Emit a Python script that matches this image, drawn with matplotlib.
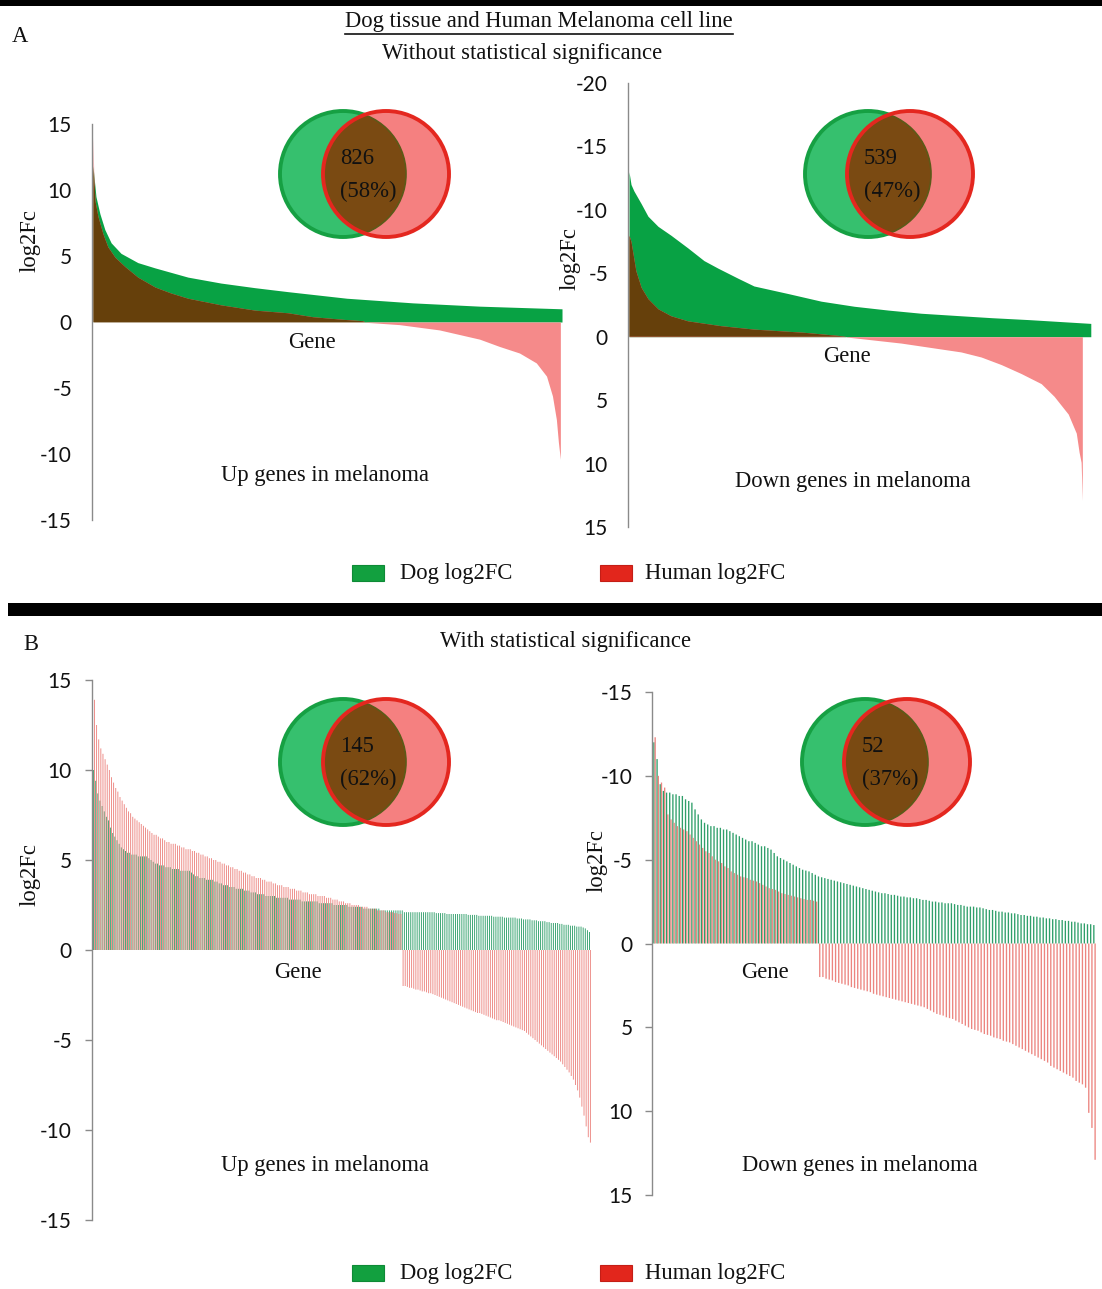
import numpy as np
import matplotlib
matplotlib.use("Agg")
import matplotlib.pyplot as plt
from matplotlib.patches import Circle, Rectangle

# ---------------- data ----------------
# Panel A (all genes, no significance filter): ranked log2FC curves, sampled (rank, value)
up_all_dog_rank = [0, 9, 21, 36, 55, 85, 136, 188, 288, 388, 491, 591, 770, 970, 1173, 1423]
up_all_dog_fc = [11.8, 9.5, 8.2, 7.0, 6.0, 5.2, 4.5, 4.1, 3.4, 2.95, 2.6, 2.3, 1.8, 1.45, 1.2, 1.0]
up_all_human_rank = [0, 2, 6, 15, 30, 45, 67, 97, 136, 188, 236, 288, 388, 491, 591, 667, 760,
                     818, 825, 826, 930, 1051, 1112, 1173, 1233, 1294, 1345, 1376, 1394, 1406,
                     1412, 1418]
up_all_human_fc = [14.0, 11.5, 9.2, 8.0, 6.7, 5.7, 4.9, 4.2, 3.4, 2.65, 2.2, 1.8, 1.3, 0.9, 0.7,
                   0.4, 0.2, 0.1, 0.02, -0.02, -0.2, -0.6, -0.95, -1.3, -1.85, -2.35, -3.1, -4.1,
                   -5.6, -7.4, -9.1, -10.4]

down_all_dog_rank = [0, 5, 12, 30, 47, 72, 104, 146, 186, 221, 271, 310, 395, 477, 559, 643, 725,
                     824, 900, 991, 1146]
down_all_dog_fc = [-13.0, -12.0, -11.5, -10.5, -9.5, -8.7, -8.0, -7.0, -6.0, -5.4, -4.6, -4.0,
                   -3.4, -2.8, -2.4, -2.1, -1.85, -1.65, -1.5, -1.35, -1.05]
down_all_human_rank = [0, 5, 17, 30, 47, 72, 104, 146, 228, 310, 434, 520, 538, 539, 675, 824,
                       874, 924, 973, 1023, 1055, 1090, 1110, 1117, 1122, 1125]
down_all_human_fc = [-8.0, -7.5, -5.2, -3.9, -3.0, -2.2, -1.65, -1.25, -0.87, -0.6, -0.35, -0.1,
                     -0.02, 0.02, 0.5, 1.2, 1.6, 2.2, 2.9, 3.7, 4.7, 6.1, 7.6, 9.1, 9.9, 12.9]

venn_counts = [826, 539, 145, 52]
venn_pcts = ["58%", "47%", "62%", "37%"]

# Panel B (significant genes): one value per gene
up_sig_dog = [
    10.0, 9.4, 8.7, 8.3, 8.0, 7.7, 7.4, 7.2, 6.8, 6.5,
    6.3, 6.1, 5.9, 5.7, 5.6, 5.5, 5.4, 5.4, 5.3, 5.3,
    5.3, 5.2, 5.2, 5.2, 5.2, 5.2, 5.1, 5.0, 4.9, 4.8,
    4.8, 4.7, 4.7, 4.7, 4.6, 4.6, 4.6, 4.5, 4.5, 4.5,
    4.5, 4.4, 4.4, 4.4, 4.4, 4.4, 4.3, 4.2, 4.1, 4.1,
    4.0, 4.0, 4.0, 3.9, 3.9, 3.9, 3.9, 3.8, 3.8, 3.7,
    3.7, 3.6, 3.6, 3.6, 3.5, 3.5, 3.5, 3.4, 3.4, 3.4,
    3.4, 3.3, 3.3, 3.3, 3.2, 3.2, 3.2, 3.1, 3.1, 3.1,
    3.1, 3.0, 3.0, 3.0, 3.0, 3.0, 2.9, 2.9, 2.9, 2.9,
    2.9, 2.9, 2.8, 2.8, 2.8, 2.8, 2.8, 2.8, 2.7, 2.7,
    2.7, 2.7, 2.7, 2.7, 2.7, 2.7, 2.6, 2.6, 2.6, 2.6,
    2.6, 2.6, 2.6, 2.5, 2.5, 2.5, 2.5, 2.5, 2.5, 2.5,
    2.4, 2.4, 2.4, 2.4, 2.4, 2.4, 2.4, 2.3, 2.3, 2.3,
    2.3, 2.3, 2.3, 2.3, 2.3, 2.2, 2.2, 2.2, 2.2, 2.2,
    2.2, 2.2, 2.2, 2.2, 2.2, 2.2, 2.1, 2.1, 2.1, 2.1,
    2.1, 2.1, 2.1, 2.1, 2.1, 2.1, 2.1, 2.1, 2.1, 2.1,
    2.1, 2.05, 2.05, 2.05, 2.05, 2.05, 2.0, 2.0, 2.0, 2.0,
    2.0, 2.0, 2.0, 2.0, 2.0, 2.0, 1.95, 1.95, 1.95, 1.95,
    1.95, 1.9, 1.9, 1.9, 1.9, 1.9, 1.9, 1.9, 1.85, 1.85,
    1.85, 1.85, 1.85, 1.8, 1.8, 1.8, 1.8, 1.8, 1.8, 1.75,
    1.75, 1.75, 1.7, 1.7, 1.7, 1.7, 1.65, 1.65, 1.65, 1.6,
    1.6, 1.6, 1.6, 1.55, 1.55, 1.5, 1.5, 1.5, 1.5, 1.45,
    1.45, 1.4, 1.4, 1.4, 1.35, 1.35, 1.35, 1.3, 1.3, 1.3,
    1.25, 1.2, 1.1, 1.0,
]
up_sig_human = [
    13.9, 12.5, 11.7, 11.2, 10.9, 10.6, 10.3, 10.0, 9.6, 9.3,
    9.0, 8.8, 8.5, 8.3, 8.1, 7.9, 7.7, 7.6, 7.4, 7.3,
    7.2, 7.1, 7.0, 6.9, 6.8, 6.7, 6.6, 6.5, 6.4, 6.4,
    6.3, 6.2, 6.2, 6.1, 6.0, 6.0, 5.9, 5.9, 5.9, 5.8,
    5.8, 5.7, 5.7, 5.6, 5.6, 5.6, 5.5, 5.5, 5.4, 5.4,
    5.3, 5.3, 5.2, 5.2, 5.1, 5.1, 5.0, 5.0, 4.9, 4.9,
    4.8, 4.8, 4.7, 4.7, 4.6, 4.6, 4.5, 4.5, 4.4, 4.4,
    4.3, 4.3, 4.2, 4.2, 4.1, 4.1, 4.0, 4.0, 4.0, 3.9,
    3.9, 3.8, 3.8, 3.8, 3.7, 3.7, 3.6, 3.6, 3.6, 3.5,
    3.5, 3.5, 3.4, 3.4, 3.4, 3.3, 3.3, 3.3, 3.2, 3.2,
    3.2, 3.1, 3.1, 3.1, 3.1, 3.0, 3.0, 3.0, 3.0, 2.9,
    2.9, 2.9, 2.8, 2.8, 2.8, 2.7, 2.7, 2.7, 2.6, 2.6,
    2.6, 2.5, 2.5, 2.5, 2.5, 2.4, 2.4, 2.4, 2.4, 2.3,
    2.3, 2.3, 2.3, 2.2, 2.2, 2.2, 2.2, 2.1, 2.1, 2.1,
    2.1, 2.05, 2.05, 2.0, 2.0, -2.0, -2.0, -2.05, -2.1, -2.1,
    -2.15, -2.2, -2.2, -2.25, -2.3, -2.3, -2.35, -2.4, -2.4, -2.45,
    -2.5, -2.55, -2.6, -2.65, -2.7, -2.75, -2.8, -2.85, -2.9, -2.95,
    -3.0, -3.05, -3.1, -3.15, -3.2, -3.25, -3.3, -3.35, -3.4, -3.45,
    -3.5, -3.5, -3.55, -3.6, -3.65, -3.7, -3.75, -3.8, -3.85, -3.9,
    -3.9, -3.95, -4.0, -4.05, -4.1, -4.15, -4.2, -4.25, -4.3, -4.35,
    -4.4, -4.45, -4.5, -4.6, -4.7, -4.8, -4.9, -5.0, -5.1, -5.2,
    -5.3, -5.4, -5.5, -5.6, -5.7, -5.8, -5.9, -6.0, -6.1, -6.2,
    -6.35, -6.5, -6.65, -6.8, -7.0, -7.2, -7.5, -7.8, -8.2, -8.7,
    -9.2, -9.8, -10.4, -10.7,
]
down_sig_dog = [
    -12.0, -11.0, -9.5, -9.1, -9.0, -9.0, -8.9, -8.9, -8.8, -8.8,
    -8.6, -8.5, -8.4, -8.0, -7.7, -7.4, -7.2, -7.1, -7.0, -7.0,
    -6.9, -6.9, -6.8, -6.8, -6.7, -6.6, -6.5, -6.4, -6.3, -6.2,
    -6.1, -6.1, -6.0, -5.9, -5.8, -5.8, -5.7, -5.6, -5.4, -5.2,
    -5.1, -5.0, -4.9, -4.8, -4.7, -4.6, -4.5, -4.4, -4.35, -4.3,
    -4.2, -4.1, -4.0, -3.95, -3.9, -3.85, -3.8, -3.75, -3.7, -3.65,
    -3.6, -3.55, -3.5, -3.45, -3.4, -3.35, -3.3, -3.25, -3.2, -3.15,
    -3.1, -3.05, -3.0, -3.0, -2.95, -2.9, -2.9, -2.85, -2.8, -2.8,
    -2.75, -2.75, -2.7, -2.7, -2.65, -2.6, -2.6, -2.55, -2.5, -2.5,
    -2.45, -2.45, -2.4, -2.4, -2.4, -2.35, -2.3, -2.3, -2.25, -2.2,
    -2.2, -2.2, -2.15, -2.15, -2.1, -2.05, -2.0, -2.0, -1.95, -1.9,
    -1.9, -1.85, -1.85, -1.8, -1.8, -1.75, -1.7, -1.7, -1.65, -1.65,
    -1.6, -1.6, -1.55, -1.55, -1.5, -1.5, -1.45, -1.45, -1.4, -1.4,
    -1.35, -1.35, -1.3, -1.3, -1.25, -1.2, -1.2, -1.15, -1.15, -1.1,
]
down_sig_human = [
    -12.3, -10.0, -9.6, -9.3, -7.7, -7.4, -7.2, -7.0, -6.9, -6.8,
    -6.7, -6.5, -6.3, -6.1, -5.9, -5.7, -5.5, -5.4, -5.2, -5.0,
    -4.9, -4.8, -4.6, -4.5, -4.3, -4.2, -4.1, -4.0, -3.95, -3.9,
    -3.8, -3.75, -3.7, -3.6, -3.5, -3.4, -3.3, -3.25, -3.2, -3.1,
    -3.0, -2.95, -2.9, -2.85, -2.8, -2.75, -2.7, -2.65, -2.6, -2.6,
    -2.55, -2.5, 2.0, 2.0, 2.1, 2.15, 2.2, 2.3, 2.35, 2.4,
    2.45, 2.5, 2.6, 2.65, 2.7, 2.75, 2.8, 2.85, 2.9, 3.0,
    3.05, 3.1, 3.15, 3.2, 3.25, 3.3, 3.35, 3.4, 3.45, 3.5,
    3.55, 3.6, 3.65, 3.7, 3.75, 3.8, 3.9, 4.0, 4.1, 4.2,
    4.25, 4.3, 4.4, 4.45, 4.5, 4.6, 4.7, 4.8, 4.9, 5.0,
    5.1, 5.15, 5.2, 5.3, 5.4, 5.45, 5.5, 5.6, 5.65, 5.7,
    5.8, 5.85, 5.9, 6.0, 6.1, 6.2, 6.3, 6.4, 6.5, 6.6,
    6.7, 6.8, 6.9, 7.0, 7.1, 7.3, 7.4, 7.5, 7.6, 7.7,
    7.8, 7.9, 8.0, 8.2, 8.3, 8.4, 8.6, 10.1, 11.0, 12.9,
]

yticks_up = [-15, -10, -5, 0, 5, 10, 15]
yticks_down_all = [-20, -15, -10, -5, 0, 5, 10, 15]
yticks_down_sig = [-15, -10, -5, 0, 5, 10, 15]

# ---------------- style ----------------
W, H, DPI = 1102, 1289, 100
SERIF = "Liberation Serif"
SANS = "Lato"
TXT = 16.3
GREEN = "#08a244"
BROWN = "#66400b"
PINK = "#f58a8a"
BAR_DOG = "#2f9f6a"
BAR_HUM = "#ec8580"
SPINE = "#8a8a8a"

plt.rcParams["axes.unicode_minus"] = False
plt.rcParams["font.family"] = SANS

fig = plt.figure(figsize=(W / DPI, H / DPI), dpi=DPI)


def axes_px(left, top, right, bottom):
    return fig.add_axes([left / W, 1 - bottom / H, (right - left) / W, (bottom - top) / H])


def style_axis(ax, ticks, ticklen, pad):
    for s in ("top", "right", "bottom"):
        ax.spines[s].set_visible(False)
    ax.spines["left"].set_color(SPINE)
    ax.spines["left"].set_linewidth(1.0)
    ax.set_xticks([])
    ax.set_yticks(ticks)
    ax.set_yticklabels([str(t) for t in ticks])
    ax.tick_params(axis="y", length=ticklen, width=1, color=SPINE, pad=pad,
                   labelsize=15, labelcolor="#111111")
    ax.patch.set_alpha(0)


def ranked_area(ax, d_rank, d_fc, h_rank, h_fc, sign):
    d_rank = np.asarray(d_rank, float)
    d_fc = np.asarray(d_fc, float)
    h_rank = np.asarray(h_rank, float)
    h_fc = np.asarray(h_fc, float)
    dog = ax.fill_between(d_rank, 0, d_fc, color=GREEN, lw=0, zorder=1)
    ax.fill_between(h_rank, 0, h_fc, color=PINK, lw=0, zorder=2)
    same = np.where(np.sign(h_fc) == sign, h_fc, 0.0)
    shared = ax.fill_between(h_rank, 0, same, color=BROWN, lw=0, zorder=3)
    shared.set_clip_path(dog.get_paths()[0], ax.transData)


def ranked_bars(ax, dog, human):
    idx = np.arange(len(dog))
    b1 = ax.bar(idx - 0.2, dog, width=0.42, color=BAR_DOG, lw=0, zorder=1)
    b2 = ax.bar(idx + 0.2, human, width=0.42, color=BAR_HUM, lw=0, zorder=2)
    for p in list(b1) + list(b2):
        p.set_snap(False)


# Panel A, up genes
ax1 = axes_px(92, 124, 563, 520)
ranked_area(ax1, up_all_dog_rank, up_all_dog_fc, up_all_human_rank, up_all_human_fc, 1)
ax1.set_xlim(-3, 1426)
ax1.set_ylim(-15, 15)
style_axis(ax1, yticks_up, 0, 14.4)

# Panel A, down genes (axis inverted)
ax2 = axes_px(628, 83, 1092, 527)
ranked_area(ax2, down_all_dog_rank, down_all_dog_fc, down_all_human_rank, down_all_human_fc, -1)
ax2.set_xlim(-2.5, 1149)
ax2.set_ylim(15, -20)
style_axis(ax2, yticks_down_all, 0, 14.4)

# Panel B, up genes
ax3 = axes_px(92, 680, 592, 1220)
ranked_bars(ax3, up_sig_dog, up_sig_human)
ax3.set_xlim(-0.95, len(up_sig_dog) - 0.05)
ax3.set_ylim(-15, 15)
style_axis(ax3, yticks_up, 5, 9.4)

# Panel B, down genes (axis inverted)
ax4 = axes_px(652, 692, 1097, 1195)
ranked_bars(ax4, down_sig_dog, down_sig_human)
ax4.set_xlim(-0.8, len(down_sig_dog) - 0.2)
ax4.set_ylim(15, -15)
style_axis(ax4, yticks_down_sig, 5, 9.0)

# ---------------- annotation layer (figure pixels) ----------------
ov = fig.add_axes([0, 0, 1, 1])
ov.set_xlim(0, W)
ov.set_ylim(H, 0)
ov.axis("off")
ov.set_zorder(10)
ov.patch.set_alpha(0)


def txt(x, y, s, ha="center", rot=0, size=TXT):
    return ov.text(x, y, s, ha=ha, va="center", rotation=rot, fontsize=size,
                   family=SERIF, color="#111111")


# separator bars
ov.add_patch(Rectangle((0, 0), W, 6, color="black", lw=0))
ov.add_patch(Rectangle((8, 603), W - 8, 13, color="black", lw=0))

title = txt(539, 22, "Dog tissue and Human Melanoma cell line")
txt(522, 53, "Without statistical significance")
txt(566, 641, "With statistical significance")
txt(20, 37, "A")
txt(31, 645, "B")

fig.canvas.draw()
bb = title.get_window_extent()
ov.plot([bb.x0, bb.x1], [34, 34], color="#111111", lw=1.2)

# axis annotations
txt(312, 343, "Gene")
txt(325, 476, "Up genes in melanoma")
txt(30, 240, "log2Fc", rot=90)
txt(847, 356, "Gene")
txt(853, 481, "Down genes in melanoma")
txt(570, 258, "log2Fc", rot=90)
txt(298, 973, "Gene")
txt(325, 1165, "Up genes in melanoma")
txt(30, 875, "log2Fc", rot=90)
txt(765, 973, "Gene")
txt(860, 1166, "Down genes in melanoma")
txt(597, 861, "log2Fc", rot=90)


def venn(cxg, cxr, cy, r, count, pct, tx):
    g = Circle((cxg, cy), r, facecolor="#36c06e", edgecolor="#16a043", lw=2.8)
    ov.add_patch(g)
    rf = Circle((cxr, cy), r, facecolor="#f58080", edgecolor="none")
    ov.add_patch(rf)
    lens = Circle((cxg, cy), r, facecolor="#7a4a12", edgecolor="none")
    ov.add_patch(lens)
    lens.set_clip_path(rf)
    inner = Circle((cxg, cy), r, facecolor="none", edgecolor="#5c5a18", lw=1.2)
    ov.add_patch(inner)
    inner.set_clip_path(rf)
    ov.add_patch(Circle((cxr, cy), r, facecolor="none", edgecolor="#e4271f", lw=2.8))
    txt(tx, cy - 15, str(count), ha="left")
    txt(tx, cy + 17, "(" + pct + ")", ha="left")


venn(343, 386, 174, 63, venn_counts[0], venn_pcts[0], 340)
venn(868, 910, 174, 63, venn_counts[1], venn_pcts[1], 864)
venn(343, 386, 762, 63, venn_counts[2], venn_pcts[2], 340)
venn(865, 907, 762, 63, venn_counts[3], venn_pcts[3], 862)

# legends
for ly in (573, 1273):
    ov.add_patch(Rectangle((352, ly - 8), 32, 16, facecolor="#12a03f", edgecolor="#0e8a36", lw=0.8))
    txt(400, ly, "Dog log2FC", ha="left")
    ov.add_patch(Rectangle((600, ly - 8), 32, 16, facecolor="#e2261c", edgecolor="#c41e16", lw=0.8))
    txt(645, ly, "Human log2FC", ha="left")

fig.savefig("out.png", dpi=DPI)
